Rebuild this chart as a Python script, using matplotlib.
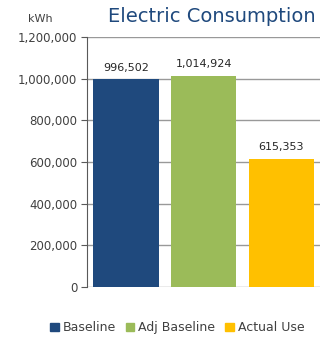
import matplotlib
matplotlib.use("Agg")
import matplotlib.pyplot as plt
from matplotlib.ticker import FuncFormatter

categories = ["Baseline", "Adj Baseline", "Actual Use"]
values = [996502, 1014924, 615353]
colors = ["#1F497D", "#9BBB59", "#FFC000"]

plt.rcParams['font.family'] = ['DejaVu Sans']
txt = "#404040"

fig = plt.figure(figsize=(3.25, 3.37), dpi=100)
ax = fig.add_axes([0.268, 0.148, 0.717, 0.742])

x = range(len(categories))
bars = ax.bar(x, values, width=0.84, color=colors, zorder=3)
for b, v in zip(bars, values):
    ax.text(b.get_x() + b.get_width() / 2, v + 32000, f"{v:,}",
            ha="center", va="bottom", fontsize=8, color="#262626")

ax.set_ylim(0, 1200000)
ax.set_yticks(range(0, 1200001, 200000))
ax.yaxis.set_major_formatter(FuncFormatter(lambda v, p: f"{int(v):,}"))
ax.set_xlim(-0.5, 2.5)
ax.set_xticks([])
ax.grid(axis="y", color="#999999", linewidth=1, zorder=0)
for s in ["top", "right", "bottom"]:
    ax.spines[s].set_visible(False)
ax.spines["left"].set_color("#595959")
ax.tick_params(axis="y", length=4, color="#595959", labelsize=8.5, labelcolor=txt, pad=3)

fig.text(0.125, 0.943, "kWh", fontsize=8, color=txt, ha="center", va="center")
fig.text(0.97, 0.95, "Electric Consumption", fontsize=14, color="#1F497D",
         ha="right", va="center")

handles = [plt.Rectangle((0, 0), 1, 1, color=c) for c in colors]
fig.legend(handles, categories, loc="center", bbox_to_anchor=(0.545, 0.027), ncol=3,
           frameon=False, fontsize=9, handlelength=0.7, handleheight=0.7,
           handletextpad=0.3, columnspacing=0.8, labelcolor=txt)

fig.savefig("out.png", dpi=100)
